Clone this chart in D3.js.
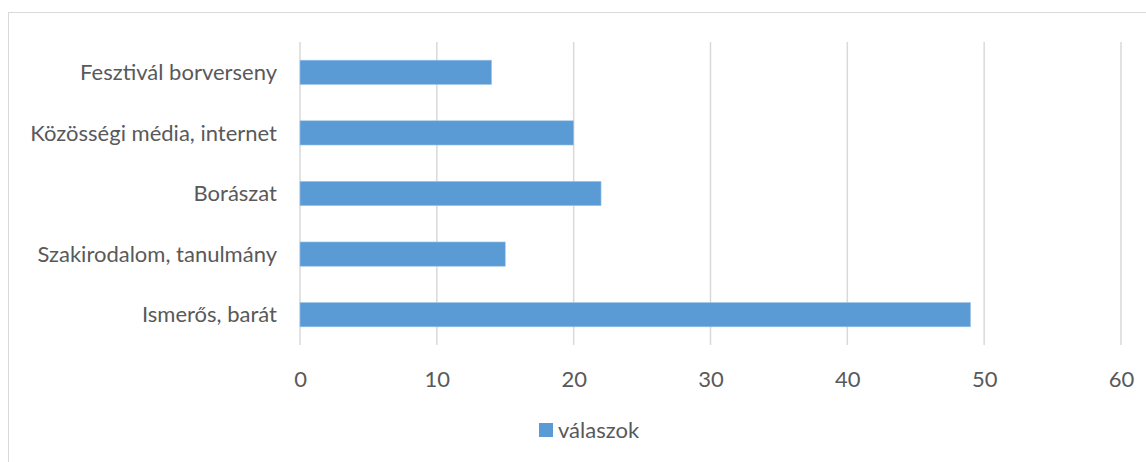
<!DOCTYPE html>
<html>
<head>
<meta charset="utf-8">
<script src="https://cdn.jsdelivr.net/npm/d3@7"></script>
<style>
  body { margin: 0; background: #fff; }
  svg { display: block; font-family: Lato, "Open Sans", sans-serif; }
</style>
</head>
<body>
<div id="chart"></div>
<script>
// data, top to bottom as drawn
const categories = ["Fesztivál borverseny", "Közösségi média, internet", "Borászat", "Szakirodalom, tanulmány", "Ismerős, barát"];
const values = [14, 20, 22, 15, 49];
const ticks = [0, 10, 20, 30, 40, 50, 60];
const seriesName = "válaszok";

const width = 1146, height = 462;
const margin = { left: 300, right: 25, top: 42, bottom: 117 };
const barColor = "#5B9BD5", gridColor = "#D9D9D9", textColor = "#595959";
const fontSize = "22px";

const svg = d3.select("#chart").append("svg")
  .attr("width", width).attr("height", height);

// outer chart border (right/bottom run off the page)
svg.append("rect")
  .attr("x", 8.5).attr("y", 12.5)
  .attr("width", width).attr("height", height)
  .attr("fill", "none").attr("stroke", "#D9D9D9");

const x = d3.scaleLinear().domain([0, 60]).range([margin.left, width - margin.right]);
const y = d3.scaleBand().domain(categories)
  .range([margin.top, height - margin.bottom]).paddingInner(0.6).paddingOuter(0.3);

// gridlines
svg.append("g").selectAll("line")
  .data(ticks)
  .join("line")
  .attr("x1", d => x(d)).attr("x2", d => x(d))
  .attr("y1", margin.top).attr("y2", height - margin.bottom)
  .attr("stroke", gridColor).attr("stroke-width", 1.5);

// bars
svg.append("g").selectAll("rect")
  .data(categories)
  .join("rect")
  .attr("x", x(0))
  .attr("y", d => y(d))
  .attr("width", (d, i) => x(values[i]) - x(0))
  .attr("height", y.bandwidth())
  .attr("fill", barColor)
  .attr("stroke", "#9DC3E6").attr("stroke-width", 0.6);

// category labels
svg.append("g").selectAll("text")
  .data(categories)
  .join("text")
  .attr("x", margin.left - 23)
  .attr("y", d => y(d) + y.bandwidth() / 2)
  .attr("dy", "0.35em")
  .attr("text-anchor", "end")
  .attr("fill", textColor).attr("font-size", fontSize)
  .text(d => d);

// x axis tick labels
const xAxis = svg.append("g")
  .attr("transform", `translate(0,${height - margin.bottom})`)
  .call(d3.axisBottom(x).tickValues(ticks).tickSize(0).tickPadding(26));
xAxis.select(".domain").remove();
xAxis.selectAll("text")
  .attr("fill", textColor).attr("font-size", fontSize)
  .attr("font-family", "Lato, 'Open Sans', sans-serif");

// legend
const leg = svg.append("g").attr("transform", "translate(539,423)");
leg.append("rect").attr("width", 14).attr("height", 14).attr("fill", barColor);
leg.append("text")
  .attr("x", 19).attr("y", 7).attr("dy", "0.35em")
  .attr("fill", textColor).attr("font-size", fontSize)
  .text(seriesName);
</script>
</body>
</html>
